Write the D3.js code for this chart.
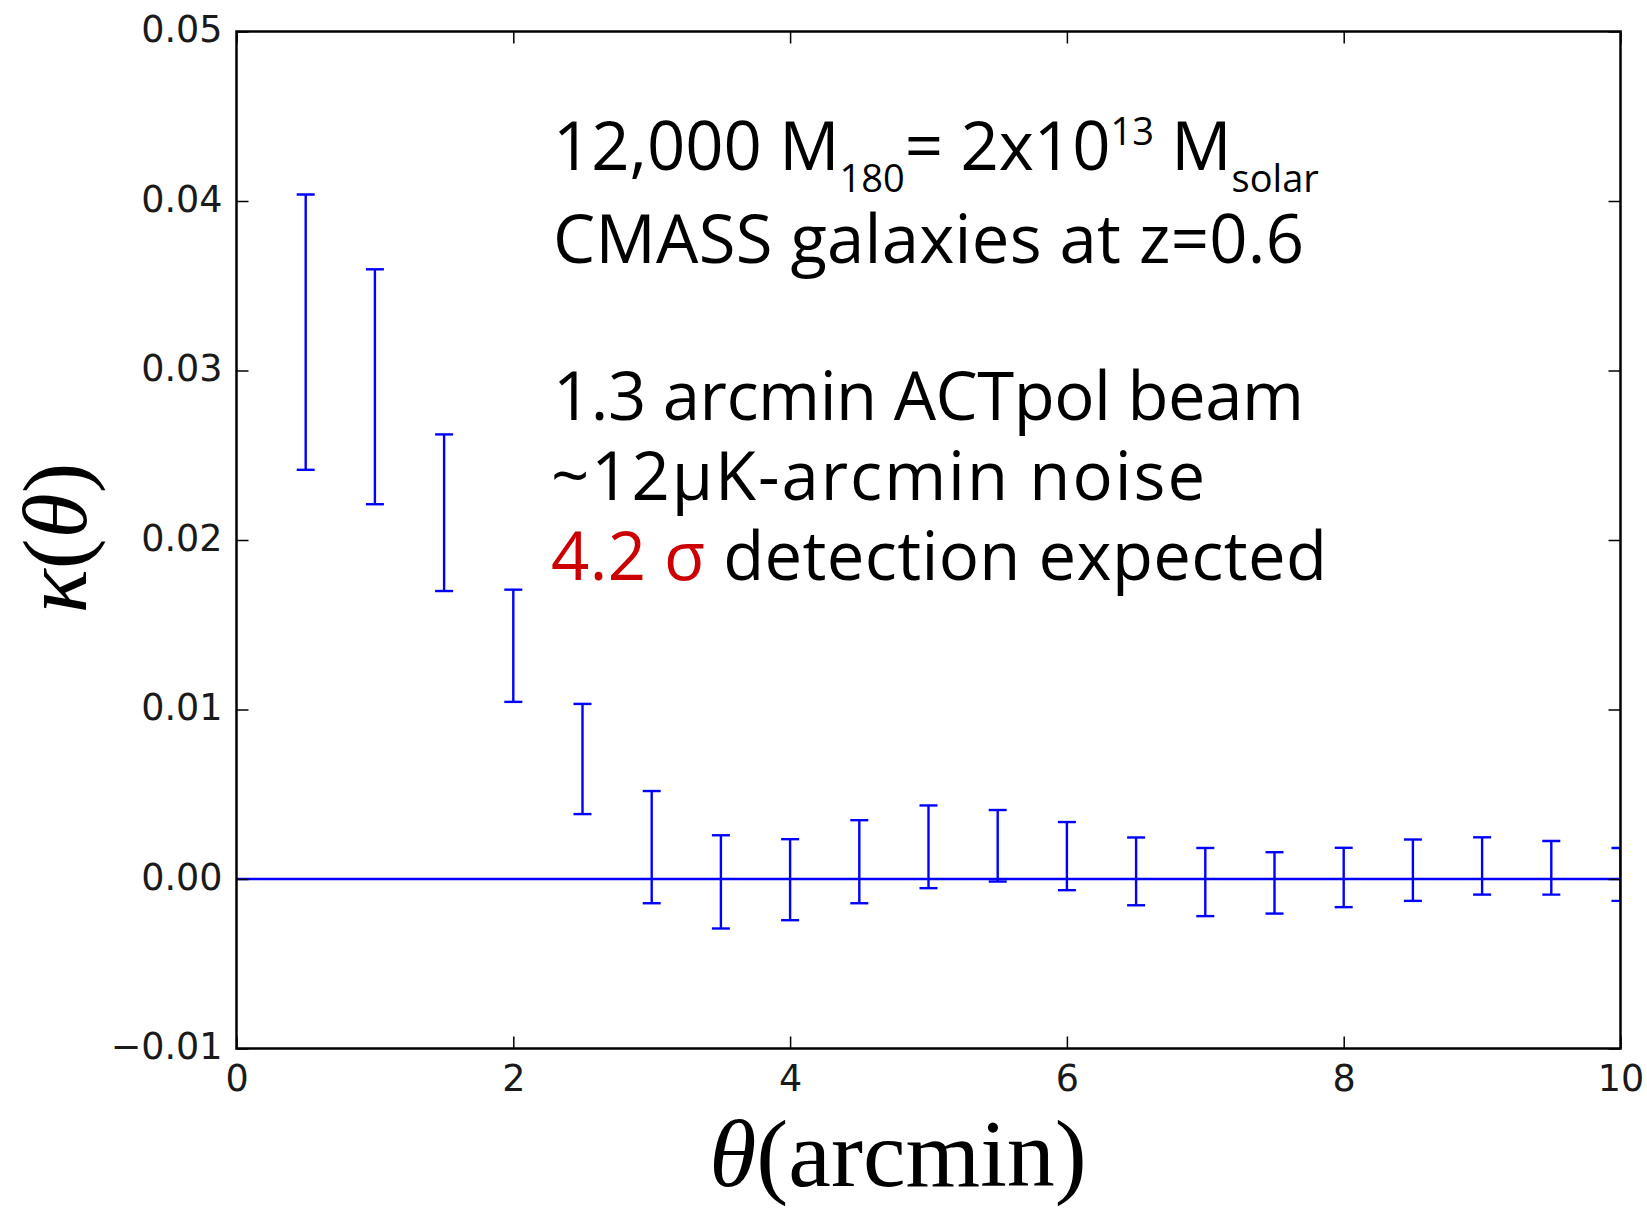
<!DOCTYPE html>
<html>
<head>
<meta charset="utf-8">
<script src="https://cdn.jsdelivr.net/npm/d3@7"></script>
<style>
  html, body { margin: 0; padding: 0; background: #fff; }
  svg { display: block; }
</style>
</head>
<body>
<div id="chart"></div>
<script>
// kappa profile
const THETA = [0.5, 1.0, 1.5, 2.0, 2.5, 3.0, 3.5, 4.0, 4.5, 5.0, 5.5, 6.0, 6.5, 7.0, 7.5, 8.0, 8.5, 9.0, 9.5, 10.0];
const KAPPA = [0.03226, 0.02904, 0.02161, 0.01376, 0.00708, 0.00188, -0.00017, -0.00004, 0.00102, 0.00190,
  0.00196, 0.00135, 0.00045, -0.00018, -0.00023, 0.00009, 0.00052, 0.00077, 0.00066, 0.00027];
const KAPPA_ERR = [0.00812, 0.00693, 0.00462, 0.00331, 0.00325, 0.00331, 0.00275, 0.00239, 0.00245, 0.00244,
  0.00211, 0.00201, 0.00200, 0.00201, 0.00181, 0.00175, 0.00181, 0.00169, 0.00158, 0.00156];

const X_TICKS = [0, 2, 4, 6, 8, 10];
const Y_TICKS = [-0.01, 0.00, 0.01, 0.02, 0.03, 0.04, 0.05];

const NOTE_LINE2 = 'CMASS galaxies at z=0.6';
const NOTE_LINE3 = '1.3 arcmin ACTpol beam';
const NOTE_LINE4 = '~12\u00b5K-arcmin noise';
const NOTE_SIGMA = '4.2 \u03c3';
const NOTE_LINE5 = ' detection expected';

const W = 1647;
const H = 1208;
const margin = { top: 31.5, right: 26.5, bottom: 159.5, left: 236.5 };
const BLUE = '#0000ff';
const CAP = 9;
const NOTE_FONT = '"Open Sans", "Noto Sans", sans-serif';
const MATH_FONT = '"Liberation Serif", "DejaVu Serif", serif';

const svg = d3.select('#chart').append('svg')
  .attr('width', W)
  .attr('height', H)
  .attr('viewBox', `0 0 ${W} ${H}`);

const x = d3.scaleLinear().domain([0, 10]).range([margin.left, W - margin.right]);
const y = d3.scaleLinear().domain([-0.01, 0.05]).range([H - margin.bottom, margin.top]);

svg.append('clipPath').attr('id', 'plot-clip')
  .append('rect')
  .attr('x', x(0)).attr('y', y(0.05))
  .attr('width', x(10) - x(0)).attr('height', y(-0.01) - y(0.05));

const plot = svg.append('g').attr('clip-path', 'url(#plot-clip)');

// zero line
plot.append('line')
  .attr('x1', x(0)).attr('x2', x(10))
  .attr('y1', y(0)).attr('y2', y(0))
  .attr('stroke', BLUE).attr('stroke-width', 2.5);

// error bars
THETA.forEach((t, i) => {
  const lo = y(KAPPA[i] - KAPPA_ERR[i]);
  const hi = y(KAPPA[i] + KAPPA_ERR[i]);
  const cx = x(t);
  const g = plot.append('g').attr('stroke', BLUE).attr('stroke-width', 2.4);
  g.append('line').attr('x1', cx).attr('x2', cx).attr('y1', lo).attr('y2', hi);
  g.append('line').attr('x1', cx - CAP).attr('x2', cx + CAP).attr('y1', lo).attr('y2', lo);
  g.append('line').attr('x1', cx - CAP).attr('x2', cx + CAP).attr('y1', hi).attr('y2', hi);
});

// axes: inward ticks on all four sides
const fmtY = (d) => d3.format('.2f')(d).replace('-', '\u2212');
const tickFont = '"DejaVu Sans", sans-serif';

const styleAxis = (g) => {
  g.select('.domain').remove();
  g.selectAll('.tick line').attr('stroke', '#000').attr('stroke-width', 1.5);
  g.selectAll('.tick text').attr('fill', '#1a1a1a').attr('font-family', tickFont).attr('font-size', 36.5);
};

svg.append('g').attr('transform', `translate(0,${y(-0.01)})`)
  .call(d3.axisBottom(x).tickValues(X_TICKS).tickSizeInner(-12).tickSizeOuter(0).tickPadding(17).tickFormat(d3.format('d')))
  .call(styleAxis)
  .call((g) => g.selectAll('.tick text').attr('dy', '0.71em'));

svg.append('g').attr('transform', `translate(0,${y(0.05)})`)
  .call(d3.axisTop(x).tickValues(X_TICKS).tickSizeInner(-12).tickSizeOuter(0).tickFormat(''))
  .call(styleAxis);

svg.append('g').attr('transform', `translate(${x(0)},0)`)
  .call(d3.axisLeft(y).tickValues(Y_TICKS).tickSizeInner(-12).tickSizeOuter(0).tickPadding(14).tickFormat(fmtY))
  .call(styleAxis)
  .call((g) => g.selectAll('.tick text').attr('dy', '0.28em'));

svg.append('g').attr('transform', `translate(${x(10)},0)`)
  .call(d3.axisRight(y).tickValues(Y_TICKS).tickSizeInner(-12).tickSizeOuter(0).tickFormat(''))
  .call(styleAxis);

// frame
svg.append('rect')
  .attr('x', x(0)).attr('y', y(0.05))
  .attr('width', x(10) - x(0)).attr('height', y(-0.01) - y(0.05))
  .attr('fill', 'none').attr('stroke', '#000').attr('stroke-width', 2.5);

// axis labels
const xl = svg.append('text')
  .attr('x', 898).attr('y', 1186)
  .attr('text-anchor', 'middle')
  .attr('font-family', MATH_FONT).attr('font-size', 96).attr('fill', '#000');
xl.append('tspan').attr('font-style', 'italic').text('\u03b8');
xl.append('tspan').text('(arcmin)');

const yl = svg.append('text')
  .attr('transform', 'translate(86,538) rotate(-90)')
  .attr('text-anchor', 'middle')
  .attr('font-family', MATH_FONT).attr('font-size', 92).attr('fill', '#000');
yl.append('tspan').attr('font-style', 'italic').text('\u03ba');
yl.append('tspan').text('(');
yl.append('tspan').attr('font-style', 'italic').text('\u03b8');
yl.append('tspan').text(')');

// annotation
const note = svg.append('g')
  .attr('font-family', NOTE_FONT)
  .attr('fill', '#000')
  .style('white-space', 'pre');

const l1 = note.append('text').attr('x', 553).attr('y', 170).attr('font-size', 67);
l1.append('tspan').text('12,000 M');
l1.append('tspan').attr('font-size', 38).attr('dy', 22).text('180');
l1.append('tspan').attr('dy', -22).text('= 2x10');
l1.append('tspan').attr('font-size', 38).attr('dy', -25).text('13');
l1.append('tspan').attr('dy', 25).text(' M');
l1.append('tspan').attr('font-size', 38).attr('dy', 22).text('solar');

note.append('text').attr('x', 553).attr('y', 263).attr('font-size', 67)
  .attr('textLength', 751).attr('lengthAdjust', 'spacing').text(NOTE_LINE2);
note.append('text').attr('x', 553).attr('y', 420).attr('font-size', 67)
  .attr('textLength', 751).attr('lengthAdjust', 'spacing').text(NOTE_LINE3);
note.append('text').attr('x', 551).attr('y', 500).attr('font-size', 67)
  .attr('textLength', 654).attr('lengthAdjust', 'spacing').text(NOTE_LINE4);

const l5 = note.append('text').attr('x', 551).attr('y', 580).attr('font-size', 67)
  .attr('textLength', 776).attr('lengthAdjust', 'spacing');
l5.append('tspan').attr('fill', '#cc0000').text(NOTE_SIGMA);
l5.append('tspan').text(NOTE_LINE5);
</script>
</body>
</html>
